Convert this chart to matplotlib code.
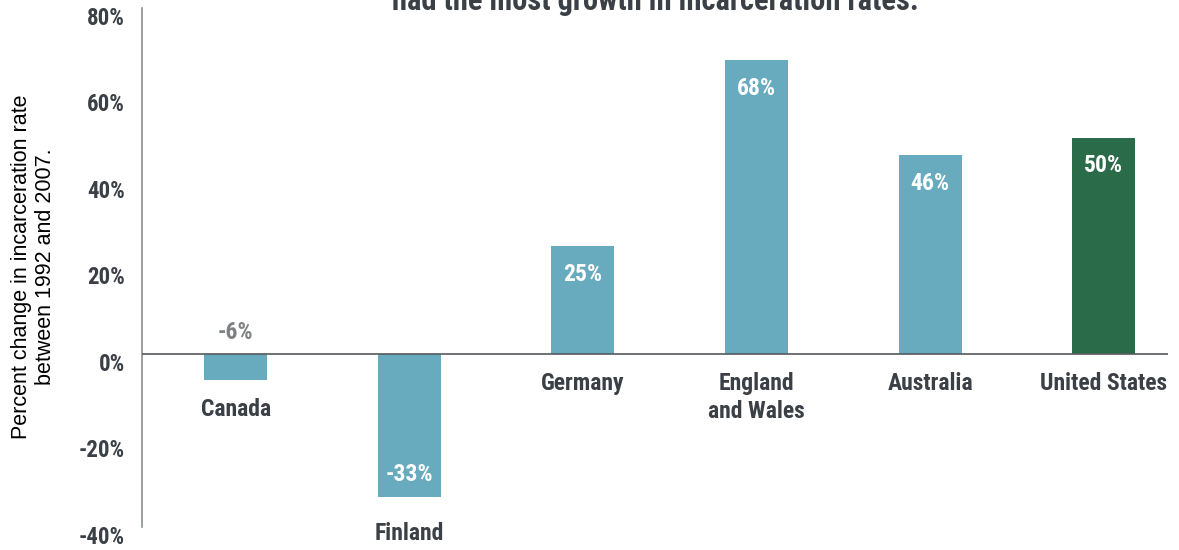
import matplotlib.pyplot as plt
from matplotlib.transforms import blended_transform_factory

countries = ["Canada", "Finland", "Germany", "England\nand Wales", "Australia", "United States"]
pct_change = [-6, -33, 25, 68, 46, 50]
value_labels = ["-6%", "-33%", "25%", "68%", "46%", "50%"]
y_ticks = [-40, -20, 0, 20, 40, 60, 80]
y_tick_labels = ["-40%", "-20%", "0%", "20%", "40%", "60%", "80%"]

teal = "#68abbe"
green = "#2a6b4a"
dark = "#3b4046"
bold_font = ["Roboto Condensed", "Barlow Semi Condensed", "DejaVu Sans"]

fig = plt.figure(figsize=(11.79, 5.5), dpi=100)
ax = fig.add_axes([0.1204, 0.0418, 0.8703, 0.9437])

colors = [teal] * (len(countries) - 1) + [green]
x = list(range(len(countries)))
ax.bar(x, pct_change, width=0.363, color=colors, zorder=2)

ax.set_xlim(-0.54, 5.37)
ax.set_ylim(-40, 80)
ax.axhline(0, color="#555a5e", lw=1.2, zorder=3)

for side in ["top", "right", "bottom"]:
    ax.spines[side].set_visible(False)
ax.spines["left"].set_color("#8a8f93")
ax.spines["left"].set_linewidth(1.2)
ax.set_xticks([])
ax.set_yticks(y_ticks)
ax.tick_params(axis="y", length=0, labelleft=False)

# tick labels sit a little below their gridline positions in the original
trans = blended_transform_factory(fig.transFigure, ax.transData)
for v, lab in zip(y_ticks, y_tick_labels):
    ax.annotate(lab, xy=(125 / 1179, v), xycoords=trans, xytext=(0, -7.5),
                textcoords="offset points", ha="right", va="center",
                fontsize=16.5, fontweight="bold", color=dark,
                family=bold_font, annotation_clip=False)

for xi, v, vl, name in zip(x, pct_change, value_labels, countries):
    # category names
    if v >= 0:
        ax.annotate(name, xy=(xi, 0), xytext=(0, -13), textcoords="offset points",
                    ha="center", va="top", fontsize=17, fontweight="bold",
                    color=dark, family=bold_font, linespacing=1.3,
                    annotation_clip=False)
    elif v < -10:
        ax.annotate(name, xy=(xi, v), xytext=(0, -18), textcoords="offset points",
                    ha="center", va="top", fontsize=17, fontweight="bold",
                    color=dark, family=bold_font, annotation_clip=False)
    else:
        ax.annotate(name, xy=(xi, v), xytext=(0, -13), textcoords="offset points",
                    ha="center", va="top", fontsize=17, fontweight="bold",
                    color=dark, family=bold_font, annotation_clip=False)
    # value labels
    if v > 0:
        ax.annotate(vl, xy=(xi, v), xytext=(0, -12), textcoords="offset points",
                    ha="center", va="top", fontsize=17, fontweight="bold",
                    color="white", family=bold_font)
    elif v < -10:
        ax.annotate(vl, xy=(xi, v), xytext=(0, 8), textcoords="offset points",
                    ha="center", va="bottom", fontsize=17, fontweight="bold",
                    color="white", family=bold_font)
    else:
        ax.annotate(vl, xy=(xi, 0), xytext=(0, 7), textcoords="offset points",
                    ha="center", va="bottom", fontsize=17, fontweight="bold",
                    color="#7d8184", family=bold_font)

fig.text(0.0285, 0.515, "Percent change in incarceration rate\nbetween 1992 and 2007.",
         rotation=90, ha="center", va="center", fontsize=15.5,
         family=["Liberation Sans", "DejaVu Sans"], color="black", linespacing=1.15)

fig.text(0.556, 0.982, "had the most growth in incarceration rates.", ha="center",
         va="baseline", fontsize=22, fontweight="bold", color=dark, family=bold_font)

fig.savefig("out.png", dpi=100)
